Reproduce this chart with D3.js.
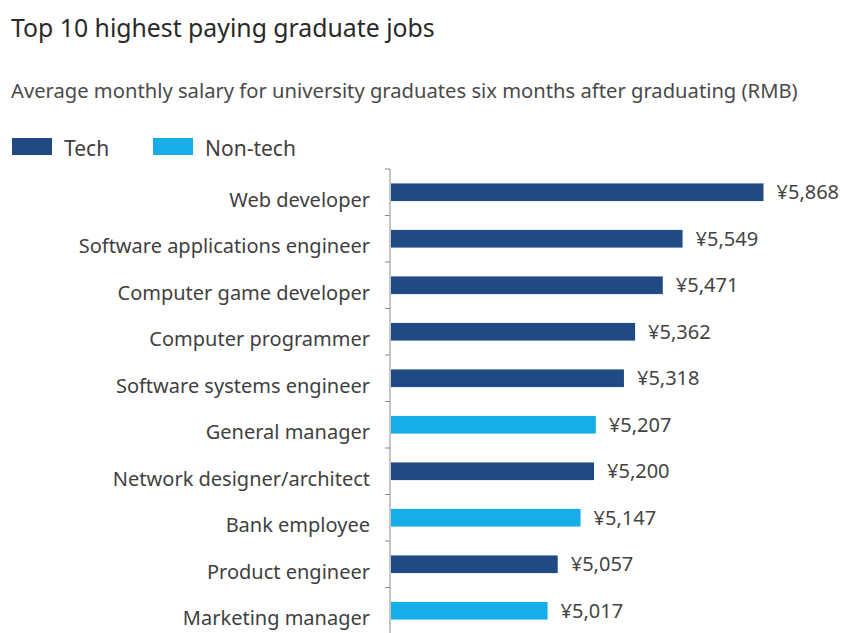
<!DOCTYPE html>
<html>
<head>
<meta charset="utf-8">
<script src="https://cdn.jsdelivr.net/npm/d3@7"></script>
<style>
  html, body { margin: 0; padding: 0; background: #ffffff; }
  svg { display: block; font-family: "Noto Sans", "Open Sans", sans-serif; }
</style>
</head>
<body>
<svg id="chart" width="846" height="633"></svg>
<script>
// Job titles, top to bottom
const jobs = [
  "Web developer",
  "Software applications engineer",
  "Computer game developer",
  "Computer programmer",
  "Software systems engineer",
  "General manager",
  "Network designer/architect",
  "Bank employee",
  "Product engineer",
  "Marketing manager"
];
// Average monthly salary (RMB)
const salaries = [5868, 5549, 5471, 5362, 5318, 5207, 5200, 5147, 5057, 5017];
// Job group for each row
const groups = ["Tech", "Tech", "Tech", "Tech", "Tech", "Non-tech", "Tech", "Non-tech", "Tech", "Non-tech"];
const legendKeys = ["Tech", "Non-tech"];
const groupColors = ["#1f4a84", "#16ade8"];

const data = jobs.map((job, i) => ({ job, salary: salaries[i], group: groups[i] }));

const svg = d3.select("#chart");
const plotLeft = 391;
const plotTop = 169;
const plotBottom = 634;

const color = d3.scaleOrdinal().domain(legendKeys).range(groupColors);

// Value axis starts at 4,400 RMB (bars are drawn from that baseline)
const xMin = 4400;
const x = d3.scaleLinear().domain([xMin, 6000]).range([plotLeft, plotLeft + 406]);
const pad = 0.62;
const y = d3.scaleBand().domain(jobs).range([plotTop, plotBottom]).paddingInner(pad).paddingOuter(pad / 2);

// Title and subtitle
svg.append("text")
  .attr("x", 11).attr("y", 37)
  .attr("font-size", 24.8).attr("fill", "#2a2a2a")
  .text("Top 10 highest paying graduate jobs");

svg.append("text")
  .attr("x", 11).attr("y", 98)
  .attr("font-size", 20.2).attr("fill", "#4a4a4a")
  .text("Average monthly salary for university graduates six months after graduating (RMB)");

// Legend
const legendX = [12, 153];
const legend = svg.append("g").selectAll("g").data(legendKeys).join("g")
  .attr("transform", (d, i) => `translate(${legendX[i]},138)`);
legend.append("rect").attr("width", 40).attr("height", 17).attr("fill", d => color(d));
legend.append("text").attr("x", 52).attr("y", 18)
  .attr("font-size", 21).attr("fill", "#404040").text(d => d);

// Bars
svg.append("g").selectAll("rect").data(data).join("rect")
  .attr("x", x(xMin))
  .attr("y", d => y(d.job))
  .attr("width", d => x(d.salary) - x(xMin))
  .attr("height", y.bandwidth())
  .attr("fill", d => color(d.group));

// Value labels
const fmt = d3.format(",");
svg.append("g").selectAll("text").data(data).join("text")
  .attr("x", d => x(d.salary) + 13)
  .attr("y", d => y(d.job) + y.bandwidth() / 2)
  .attr("dy", "0.36em")
  .attr("font-size", 20).attr("fill", "#444")
  .text(d => "¥" + fmt(d.salary));

// Category axis: vertical rule with ticks on band boundaries
const yAxis = svg.append("g").attr("transform", `translate(${plotLeft - 1},0)`);
yAxis.append("line")
  .attr("x1", 0).attr("x2", 0)
  .attr("y1", plotTop).attr("y2", plotBottom)
  .attr("stroke", "#8a8a8a").attr("stroke-width", 1);
const boundaries = jobs.map(j => y(j) - y.step() * pad / 2).concat([plotBottom]);
yAxis.selectAll("line.tick").data(boundaries).join("line")
  .attr("class", "tick")
  .attr("x1", -5).attr("x2", 0)
  .attr("y1", d => d).attr("y2", d => d)
  .attr("stroke", "#8a8a8a");

// Category labels sit a little below the bar centre line
yAxis.selectAll("text").data(jobs).join("text")
  .attr("x", -20)
  .attr("y", d => y(d) + y.bandwidth() / 2)
  .attr("dy", "0.73em")
  .attr("text-anchor", "end")
  .attr("font-size", 20).attr("fill", "#3f3f3f")
  .text(d => d);
</script>
</body>
</html>
